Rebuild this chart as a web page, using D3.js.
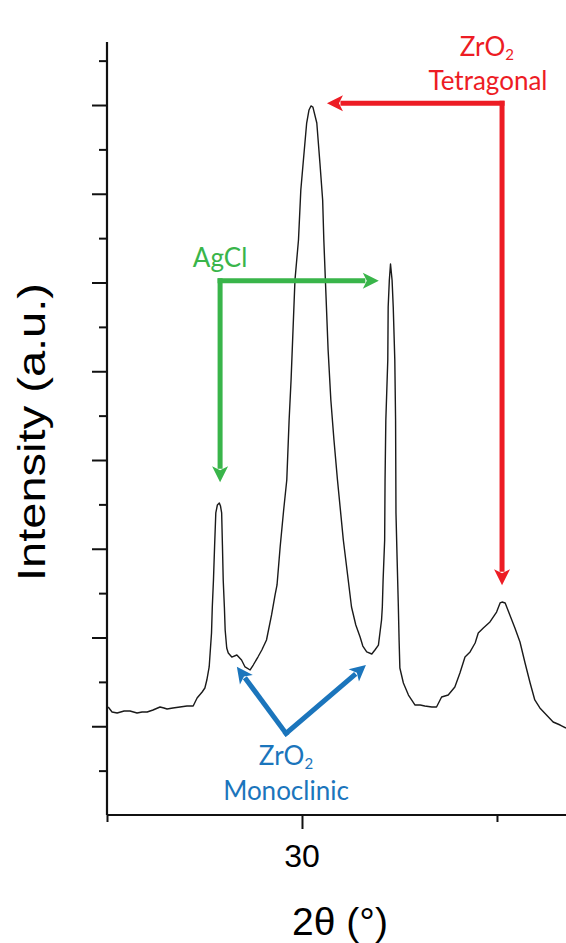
<!DOCTYPE html>
<html>
<head>
<meta charset="utf-8">
<script src="https://cdn.jsdelivr.net/npm/d3@7"></script>
<style>
  body { margin: 0; background: #fff; }
  svg { display: block; }
</style>
</head>
<body>
<div id="chart"></div>
<script>
// XRD pattern: 2theta (deg) and intensity (a.u.)
var twoTheta = [25.03,25.13,25.26,25.44,25.59,25.77,25.90,26.03,26.18,26.36,26.46,26.54,26.69,26.87,27.05,27.21,27.31,27.44,27.51,27.56,
  27.62,27.65,27.68,27.70,27.73,27.76,27.79,27.83,27.88,27.91,27.94,27.96,27.98,28.01,28.03,28.07,28.11,28.20,28.33,28.45,
  28.54,28.67,28.75,28.87,28.97,29.09,29.22,29.31,29.36,29.44,29.53,29.61,29.67,29.72,29.76,29.82,29.91,29.97,30.03,30.12,
  30.18,30.23,30.28,30.38,30.46,30.53,30.56,30.61,30.67,30.74,30.82,30.91,31.06,31.17,31.27,31.38,31.49,31.56,31.66,31.79,
  31.87,31.96,32.04,32.06,32.08,32.12,32.13,32.15,32.20,32.21,32.24,32.27,32.31,32.34,32.38,32.40,32.41,32.44,32.47,32.49,
  32.51,32.60,32.73,32.90,33.03,33.15,33.33,33.45,33.58,33.75,33.92,34.05,34.18,34.31,34.44,34.52,34.65,34.82,34.99,35.08,
  35.13,35.21,35.33,35.46,35.59,35.72,35.85,35.97,36.10,36.27,36.44,36.62,36.77];
var intensity = [121.7,116.1,114.9,117.2,117.2,114.9,116.1,116.1,118.3,121.7,120.6,119.4,120.6,121.7,122.8,122.8,131.8,138.6,143.1,152.1,
  166.8,185.9,205.1,234.4,264.8,304.2,340.3,349.3,351.5,348.2,340.3,304.2,264.8,234.4,208.5,188.2,182.5,178.0,180.3,174.6,
  166.8,163.4,169.0,178.0,185.9,197.2,225.4,247.9,259.2,302.0,343.7,377.5,445.1,490.1,535.2,602.8,647.9,704.2,734.7,779.7,
  794.4,798.9,797.7,779.7,734.7,693.0,647.9,591.5,523.9,467.6,422.5,377.5,309.9,270.4,234.4,214.1,200.6,190.4,183.7,181.4,
  185.9,191.5,219.7,234.4,264.8,309.9,377.5,445.1,512.7,572.4,602.8,620.8,602.8,572.4,512.7,445.1,340.3,287.3,236.6,197.2,
  165.6,148.7,135.2,123.9,123.9,122.8,121.7,121.7,133.0,135.2,144.2,160.0,178.0,183.7,193.8,205.1,210.7,217.5,228.7,238.9,
  240.0,238.9,225.4,210.7,194.9,171.3,148.7,129.6,120.6,112.7,104.8,101.4,98.0];

var xMajor = [30], xMinor = [25, 35];
var yMajor = [100,200,300,400,500,600,700,800];
var yMinor = [50,150,250,350,450,550,650,750,850];

// annotations in data units
var red = "#ed1c24", green = "#39b54a", blue = "#1b75bc";
var tetraArrows = [[35.13,802,35.13,259],[35.13,802,30.64,802]];
var agclArrows = [[27.90,602,27.90,375],[27.90,602,31.97,602]];
var monoArrows = [[29.59,92,28.33,167],[29.59,92,31.64,169]];

var W = 566, H = 943;
var margin = {top: 42, right: 0, bottom: 128, left: 107};
var width = W - margin.left - margin.right,
    height = H - margin.top - margin.bottom;

var svg = d3.select("#chart").append("svg")
  .attr("width", W).attr("height", H);
var g = svg.append("g")
  .attr("transform", "translate(" + margin.left + "," + margin.top + ")");

var x = d3.scaleLinear().domain([25, 36.77]).range([0, width]);
var y = d3.scaleLinear().domain([0, 871]).range([height, 0]);

var data = twoTheta.map(function(d, i){ return {t: d, v: intensity[i]}; });

// axes
function styleAxis(sel){
  sel.select(".domain").remove();
  sel.selectAll("line").attr("stroke", "#111").attr("stroke-width", 2);
  sel.selectAll("text").remove();
}
g.append("g").attr("transform", "translate(0," + height + ")")
  .call(d3.axisBottom(x).tickValues(xMajor).tickSize(14).tickSizeOuter(0)).call(styleAxis);
g.append("g").attr("transform", "translate(0," + height + ")")
  .call(d3.axisBottom(x).tickValues(xMinor).tickSize(7).tickSizeOuter(0)).call(styleAxis);
g.append("g")
  .call(d3.axisLeft(y).tickValues(yMajor).tickSize(15).tickSizeOuter(0)).call(styleAxis);
g.append("g")
  .call(d3.axisLeft(y).tickValues(yMinor).tickSize(8).tickSizeOuter(0)).call(styleAxis);

g.append("line").attr("x1", 0).attr("x2", width).attr("y1", height).attr("y2", height)
  .attr("stroke", "#111").attr("stroke-width", 2.2);
g.append("line").attr("x1", 0).attr("x2", 0).attr("y1", 0).attr("y2", height)
  .attr("stroke", "#111").attr("stroke-width", 2.2);

g.selectAll(".xlab").data(xMajor).join("text")
  .attr("x", function(d){ return x(d); })
  .attr("y", height + 52)
  .attr("text-anchor", "middle")
  .style("font-family", "Liberation Sans, Arial, sans-serif")
  .style("font-size", "32px")
  .text(function(d){ return d; });

svg.append("text")
  .attr("x", 340).attr("y", 935)
  .attr("text-anchor", "middle")
  .style("font-family", "Liberation Sans, Arial, sans-serif")
  .style("font-size", "39px")
  .text("2\u03b8 (\u00b0)");

svg.append("text")
  .attr("transform", "translate(45,432) rotate(-90)")
  .attr("text-anchor", "middle")
  .attr("textLength", 298).attr("lengthAdjust", "spacingAndGlyphs")
  .style("font-family", "Liberation Sans, Arial, sans-serif")
  .style("font-size", "39px")
  .text("Intensity (a.u.)");

// pattern
g.append("path").datum(data)
  .attr("fill", "none")
  .attr("stroke", "#1a1a1a")
  .attr("stroke-width", 1.4)
  .attr("stroke-linejoin", "round")
  .attr("d", d3.line().x(function(d){ return x(d.t); }).y(function(d){ return y(d.v); }));

// arrows
function arrow(a, col){
  var x1 = x(a[0]), y1 = y(a[1]), x2 = x(a[2]), y2 = y(a[3]);
  var ang = Math.atan2(y2 - y1, x2 - x1), L = 16, hw = 8;
  var bx = x2 - L * Math.cos(ang), by = y2 - L * Math.sin(ang);
  g.append("line").attr("x1", x1).attr("y1", y1).attr("x2", bx).attr("y2", by)
    .attr("stroke", col).attr("stroke-width", 5).attr("stroke-linecap", "square");
  g.append("path")
    .attr("d", "M" + x2 + "," + y2 +
      "L" + (bx + hw * Math.sin(ang)) + "," + (by - hw * Math.cos(ang)) +
      "L" + (bx + 4 * Math.cos(ang)) + "," + (by + 4 * Math.sin(ang)) +
      "L" + (bx - hw * Math.sin(ang)) + "," + (by + hw * Math.cos(ang)) + "Z")
    .attr("fill", col);
}
tetraArrows.forEach(function(a){ arrow(a, red); });
agclArrows.forEach(function(a){ arrow(a, green); });
monoArrows.forEach(function(a){ arrow(a, blue); });

function label(tx, ty, col, main, sub){
  var t = g.append("text")
    .attr("x", x(tx)).attr("y", y(ty))
    .attr("text-anchor", "middle")
    .style("font-family", "Lato, 'Open Sans', sans-serif")
    .style("font-size", "26px")
    .attr("fill", col);
  t.append("tspan").text(main);
  if (sub) t.append("tspan").attr("dy", 4).style("font-size", "15px").text(sub);
}
label(34.74, 855, red, "ZrO", "2");
label(34.77, 817, red, "Tetragonal");
label(27.90, 617, green, "AgCl");
label(29.59, 56, blue, "ZrO", "2");
label(29.59, 17, blue, "Monoclinic");
</script>
</body>
</html>
